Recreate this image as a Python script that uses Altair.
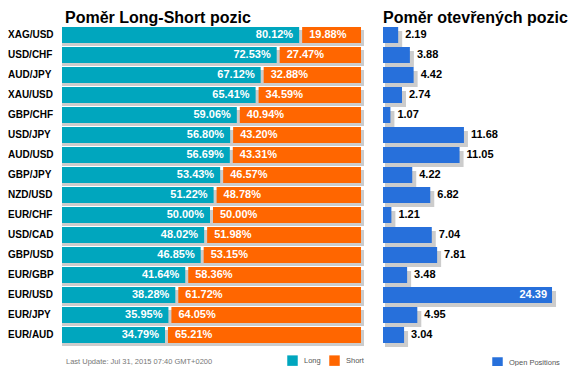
import altair as alt
import pandas as pd

pairs = ["XAG/USD", "USD/CHF", "AUD/JPY", "XAU/USD", "GBP/CHF", "USD/JPY", "AUD/USD", "GBP/JPY",
         "NZD/USD", "EUR/CHF", "USD/CAD", "GBP/USD", "EUR/GBP", "EUR/USD", "EUR/JPY", "EUR/AUD"]
long_pct = [80.12, 72.53, 67.12, 65.41, 59.06, 56.80, 56.69, 53.43,
            51.22, 50.00, 48.02, 46.85, 41.64, 38.28, 35.95, 34.79]
short_pct = [19.88, 27.47, 32.88, 34.59, 40.94, 43.20, 43.31, 46.57,
             48.78, 50.00, 51.98, 53.15, 58.36, 61.72, 64.05, 65.21]
open_pos = [2.19, 3.88, 4.42, 2.74, 1.07, 11.68, 11.05, 4.22,
            6.82, 1.21, 7.04, 7.81, 3.48, 24.39, 4.95, 3.04]

title_left = "Poměr Long-Short pozic"
title_right = "Poměr otevřených pozic"
footer = "Last Update: Jul 31, 2015 07:40 GMT+0200"

TEAL = "#00A6BE"
ORANGE = "#FF6600"
BLUE = "#2770DB"
SHADOW = "#CCCCCC"
FONT = "Liberation Sans"

df = pd.DataFrame({"pair": pairs, "long": long_pct, "short": short_pct, "pos": open_pos})
df["zero"] = 0.0
df["total"] = df["long"] + df["short"]
df["long_lbl"] = [f"{v:.2f}%" for v in long_pct]
df["short_lbl"] = [f"{v:.2f}%" for v in short_pct]
df["pos_lbl"] = [f"{v:.2f}" for v in open_pos]

y_enc = alt.Y("pair:N", sort=pairs, axis=None,
              scale=alt.Scale(range=[17, 337], paddingInner=0.2, paddingOuter=0.1))
xl_scale = alt.Scale(domain=[0, 100], range=[54, 350])
xr_scale = alt.Scale(domain=[0, 25], range=[375, 548.25])

base = alt.Chart(df)

color_lr = alt.Color("series:N",
                     scale=alt.Scale(domain=["Long", "Short"], range=[TEAL, ORANGE]),
                     legend=alt.Legend(title=None, orient="none", legendX=279, legendY=347,
                                       direction="horizontal", symbolType="square", symbolSize=110,
                                       symbolStrokeWidth=0, labelFont=FONT, labelFontSize=7.5,
                                       labelColor="#555555", labelOffset=6, columnPadding=8,
                                       padding=0))

left_shadow = base.mark_bar(color=SHADOW, yOffset=3, y2Offset=3, x2Offset=6).encode(
    x=alt.X("zero:Q", scale=xl_scale, axis=None), x2="total:Q", y=y_enc)
long_bar = base.transform_calculate(series="'Long'").mark_bar().encode(
    x=alt.X("zero:Q", scale=xl_scale, axis=None), x2="long:Q", y=y_enc, color=color_lr)
short_bar = base.transform_calculate(series="'Short'").mark_bar(xOffset=3, x2Offset=3).encode(
    x=alt.X("long:Q", scale=xl_scale, axis=None), x2="total:Q", y=y_enc, color=color_lr)
long_txt = base.mark_text(align="right", baseline="middle", dx=-6, color="white",
                          font=FONT, fontWeight="bold", fontSize=11).encode(
    x=alt.X("long:Q", scale=xl_scale, axis=None), y=y_enc, text="long_lbl:N")
short_txt = base.mark_text(align="left", baseline="middle", dx=10, color="white",
                           font=FONT, fontWeight="bold", fontSize=11).encode(
    x=alt.X("long:Q", scale=xl_scale, axis=None), y=y_enc, text="short_lbl:N")
pair_txt = base.mark_text(align="left", baseline="middle", color="black",
                          font=FONT, fontWeight="bold", fontSize=10).encode(
    x=alt.value(0), y=y_enc, text="pair:N")

left = alt.layer(left_shadow, long_bar, short_bar, long_txt, short_txt, pair_txt)

color_r = alt.Color("series:N",
                    scale=alt.Scale(domain=["Open Positions"], range=[BLUE]),
                    legend=alt.Legend(title=None, orient="none", legendX=484, legendY=349,
                                      symbolType="square", symbolSize=110, symbolStrokeWidth=0,
                                      labelFont=FONT, labelFontSize=7.5, labelColor="#555555",
                                      labelOffset=6, padding=0))

right_shadow = base.mark_bar(color=SHADOW, xOffset=2, x2Offset=4, yOffset=4, y2Offset=4).encode(
    x=alt.X("zero:Q", scale=xr_scale, axis=None), x2="pos:Q", y=y_enc)
right_bar = base.transform_calculate(series="'Open Positions'").mark_bar().encode(
    x=alt.X("zero:Q", scale=xr_scale, axis=None), x2="pos:Q", y=y_enc, color=color_r)
pos_out = base.transform_filter("datum.pos < 20").mark_text(
    align="left", baseline="middle", dx=7, color="black", font=FONT, fontWeight="bold",
    fontSize=11).encode(x=alt.X("pos:Q", scale=xr_scale, axis=None), y=y_enc, text="pos_lbl:N")
pos_in = base.transform_filter("datum.pos >= 20").mark_text(
    align="right", baseline="middle", dx=-5, color="white", font=FONT, fontWeight="bold",
    fontSize=11).encode(x=alt.X("pos:Q", scale=xr_scale, axis=None), y=y_enc, text="pos_lbl:N")

right = alt.layer(right_shadow, right_bar, pos_out, pos_in)

tdf = pd.DataFrame({"t": [title_left]})
tdf2 = pd.DataFrame({"t": [title_right]})
fdf = pd.DataFrame({"t": [footer]})
t_left = alt.Chart(tdf).mark_text(align="left", baseline="alphabetic", font=FONT, fontWeight="bold",
                                  fontSize=16, color="black").encode(
    x=alt.value(57), y=alt.value(15), text="t:N")
t_right = alt.Chart(tdf2).mark_text(align="left", baseline="alphabetic", font=FONT, fontWeight="bold",
                                    fontSize=16, color="black").encode(
    x=alt.value(375), y=alt.value(15), text="t:N")
foot = alt.Chart(fdf).mark_text(align="left", baseline="alphabetic", font=FONT, fontSize=7.5,
                                color="#777777").encode(
    x=alt.value(58), y=alt.value(356), text="t:N")

chart = alt.layer(left, right, t_left, t_right, foot).resolve_scale(
    x="independent", color="independent"
).properties(
    width=560, height=358, padding=0,
    autosize=alt.AutoSizeParams(type="none")
).configure_view(stroke=None)

chart.save("out.html", embed_options={"renderer": "svg", "actions": False})
